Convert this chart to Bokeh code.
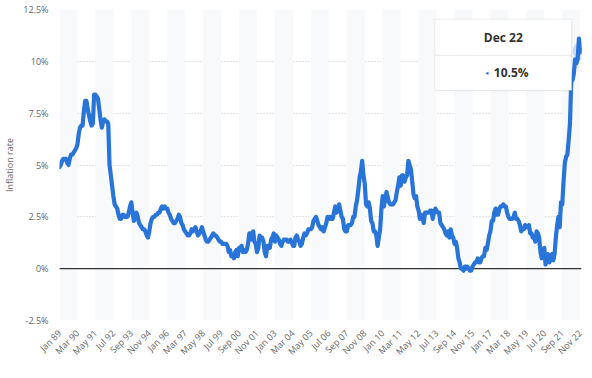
import math
from bokeh.plotting import figure
from bokeh.models import (Range1d, FixedTicker, CustomJSTickFormatter, BoxAnnotation,
                          Span, Label, ColumnDataSource)
from bokeh.embed import file_html
from bokeh.resources import INLINE

# ---------------- data (UK CPI annual rate, %, monthly) ----------------
y1989 = [4.9, 5.0, 5.2, 5.3, 5.3, 5.3, 5.1, 5.0, 5.3, 5.5, 5.5, 5.6]
y1990 = [5.7, 5.8, 6.0, 6.5, 6.8, 6.9, 6.9, 7.6, 8.1, 8.1, 7.7, 7.4]
y1991 = [7.1, 6.9, 7.0, 8.4, 8.4, 8.3, 8.2, 7.7, 7.2, 6.8, 7.1, 7.2]
y1992 = [7.1, 7.1, 7.0, 5.0, 4.5, 4.0, 3.5, 3.1, 3.0, 2.9, 2.6, 2.4]
y1993 = [2.4, 2.6, 2.6, 2.5, 2.5, 2.5, 2.7, 3.0, 3.2, 2.7, 2.3, 2.5]
y1994 = [2.7, 2.5, 2.2, 2.1, 2.0, 1.9, 1.9, 1.8, 1.6, 1.5, 1.8, 2.2]
y1995 = [2.4, 2.5, 2.5, 2.6, 2.6, 2.7, 2.7, 2.9, 3.0, 2.9, 3.0, 2.9]
y1996 = [2.9, 2.7, 2.6, 2.4, 2.3, 2.2, 2.2, 2.3, 2.4, 2.6, 2.5, 2.2]
y1997 = [2.1, 1.9, 1.8, 1.7, 1.6, 1.6, 1.7, 1.9, 1.8, 1.9, 2.0, 1.8]
y1998 = [1.6, 1.7, 1.8, 2.0, 1.8, 1.6, 1.4, 1.3, 1.3, 1.4, 1.5, 1.6]
y1999 = [1.7, 1.6, 1.6, 1.5, 1.4, 1.3, 1.3, 1.2, 1.2, 1.2, 1.2, 1.1]
y2000 = [0.8, 0.9, 0.6, 0.6, 0.5, 0.8, 0.9, 0.6, 1.0, 1.0, 1.1, 0.8]
y2001 = [0.9, 0.8, 0.9, 1.2, 1.7, 1.7, 1.4, 1.8, 1.3, 1.2, 0.8, 1.0]
y2002 = [1.6, 1.5, 1.5, 1.3, 0.8, 0.6, 1.1, 1.0, 1.0, 1.4, 1.5, 1.7]
y2003 = [1.3, 1.6, 1.5, 1.4, 1.2, 1.1, 1.3, 1.4, 1.4, 1.4, 1.3, 1.3]
y2004 = [1.4, 1.3, 1.1, 1.1, 1.5, 1.6, 1.4, 1.3, 1.1, 1.2, 1.5, 1.7]
y2005 = [1.6, 1.7, 1.9, 1.9, 1.9, 2.0, 2.3, 2.4, 2.5, 2.3, 2.1, 2.0]
y2006 = [1.9, 2.0, 1.8, 2.0, 2.2, 2.5, 2.4, 2.5, 2.4, 2.4, 2.7, 3.0]
y2007 = [2.7, 2.8, 3.1, 2.8, 2.5, 2.4, 1.9, 1.8, 1.8, 2.1, 2.1, 2.1]
y2008 = [2.2, 2.5, 2.5, 3.0, 3.3, 3.8, 4.4, 4.7, 5.2, 4.5, 4.1, 3.1]
y2009 = [3.0, 3.2, 2.9, 2.3, 2.2, 1.8, 1.8, 1.6, 1.1, 1.5, 1.9, 2.9]
y2010 = [3.5, 3.0, 3.4, 3.7, 3.4, 3.2, 3.1, 3.1, 3.1, 3.2, 3.3, 3.7]
y2011 = [4.0, 4.4, 4.0, 4.5, 4.5, 4.2, 4.4, 4.5, 5.2, 5.0, 4.8, 4.2]
y2012 = [3.6, 3.4, 3.5, 3.0, 2.8, 2.4, 2.6, 2.5, 2.2, 2.7, 2.7, 2.7]
y2013 = [2.7, 2.8, 2.8, 2.4, 2.7, 2.9, 2.8, 2.7, 2.7, 2.2, 2.1, 2.0]
y2014 = [1.9, 1.7, 1.6, 1.8, 1.5, 1.9, 1.6, 1.5, 1.2, 1.3, 1.0, 0.5]
y2015 = [0.3, 0.0, 0.0, -0.1, 0.1, 0.0, 0.1, 0.0, -0.1, -0.1, 0.1, 0.2]
y2016 = [0.3, 0.3, 0.5, 0.3, 0.3, 0.5, 0.6, 0.6, 1.0, 0.9, 1.2, 1.6]
y2017 = [1.8, 2.3, 2.3, 2.7, 2.9, 2.6, 2.6, 2.9, 3.0, 3.0, 3.1, 3.0]
y2018 = [3.0, 2.7, 2.5, 2.4, 2.4, 2.4, 2.5, 2.7, 2.4, 2.4, 2.3, 2.1]
y2019 = [1.8, 1.9, 1.9, 2.1, 2.0, 2.0, 2.1, 1.7, 1.7, 1.5, 1.5, 1.3]
y2020 = [1.8, 1.7, 1.5, 0.8, 0.5, 0.6, 1.0, 0.2, 0.5, 0.7, 0.3, 0.6]
y2021 = [0.7, 0.4, 0.7, 1.5, 2.1, 2.5, 2.0, 3.2, 3.1, 4.2, 5.1, 5.4]
y2022 = [5.5, 6.2, 7.0, 9.0, 9.1, 9.4, 10.1, 9.9, 10.1, 11.1, 10.7, 10.5]

years = [y1989, y1990, y1991, y1992, y1993, y1994, y1995, y1996, y1997, y1998,
         y1999, y2000, y2001, y2002, y2003, y2004, y2005, y2006, y2007, y2008,
         y2009, y2010, y2011, y2012, y2013, y2014, y2015, y2016, y2017, y2018,
         y2019, y2020, y2021, y2022]
first_year = 1989
month_names = ["Jan", "Feb", "Mar", "Apr", "May", "Jun",
               "Jul", "Aug", "Sep", "Oct", "Nov", "Dec"]

x_tick_labels = ["Jan 89", "Mar 90", "May 91", "Jul 92", "Sep 93", "Nov 94",
                 "Jan 96", "Mar 97", "May 98", "Jul 99", "Sep 00", "Nov 01",
                 "Jan 03", "Mar 04", "May 05", "Jul 06", "Sep 07", "Nov 08",
                 "Jan 10", "Mar 11", "May 12", "Jul 13", "Sep 14", "Nov 15",
                 "Jan 17", "Mar 18", "May 19", "Jul 20", "Sep 21", "Nov 22"]
y_ticks = [-2.5, 0, 2.5, 5, 7.5, 10, 12.5]
y_title = "Inflation rate"

# ---------------- derived ----------------
values = [v for yr in years for v in yr]
months = list(range(len(values)))


def label_to_index(lbl):
    mon, yy = lbl.split()
    yy = int(yy)
    year = 2000 + yy if yy < 50 else 1900 + yy
    return (year - first_year) * 12 + month_names.index(mon)


x_ticks = [label_to_index(l) for l in x_tick_labels]
last_i = months[-1]
last_year = first_year + last_i // 12
last_label = f"{month_names[last_i % 12]} {str(last_year)[-2:]}"

# ---------------- style ----------------
FONT = "Open Sans"
BLUE = "#2874d8"
AXIS_TXT = "#666666"

p = figure(width=592, height=378,
           x_range=Range1d(months[0], months[-1]),
           y_range=Range1d(y_ticks[0], y_ticks[-1]),
           output_backend="svg", toolbar_location=None,
           min_border_left=55, min_border_right=11,
           min_border_top=9, min_border_bottom=58)
p.outline_line_color = None
p.background_fill_color = "white"
p.border_fill_color = "white"

# alternating plot bands
for k in range(0, len(x_ticks) - 1, 2):
    p.add_layout(BoxAnnotation(left=x_ticks[k], right=x_ticks[k + 1],
                               fill_color="#f7f9fb", fill_alpha=1.0,
                               line_color=None, level="underlay"))

# grid
p.xgrid.grid_line_color = None
p.ygrid.ticker = FixedTicker(ticks=y_ticks)
p.ygrid.grid_line_color = "#c9c9c9"
p.ygrid.grid_line_dash = "1 2"
p.ygrid.grid_line_width = 1

# zero line
p.add_layout(Span(location=0, dimension="width", line_color="#333333",
                  line_width=1.3, level="underlay"))

# axes
yax = p.yaxis[0]
yax.ticker = FixedTicker(ticks=y_ticks)
yax.formatter = CustomJSTickFormatter(code="return tick + '%';")
yax.axis_line_color = None
yax.major_tick_line_color = None
yax.minor_tick_line_color = None
yax.major_tick_out = 0
yax.major_tick_in = 0
yax.major_label_standoff = 11
yax.major_label_text_font = FONT
yax.major_label_text_font_size = "9px"
yax.major_label_text_color = AXIS_TXT
yax.axis_label = y_title
yax.axis_label_text_font = FONT
yax.axis_label_text_font_size = "9px"
yax.axis_label_text_font_style = "normal"
yax.axis_label_text_color = AXIS_TXT
yax.axis_label_standoff = 4

xax = p.xaxis[0]
xax.ticker = FixedTicker(ticks=x_ticks)
xax.major_label_overrides = {t: l for t, l in zip(x_ticks, x_tick_labels)}
xax.major_label_orientation = math.pi / 4
xax.axis_line_color = None
xax.major_tick_line_color = None
xax.minor_tick_line_color = None
xax.major_tick_out = 0
xax.major_tick_in = 0
xax.major_label_standoff = 11
xax.major_label_text_font = FONT
xax.major_label_text_font_size = "9px"
xax.major_label_text_color = AXIS_TXT

# the line
src = ColumnDataSource(data=dict(m=months, v=values))
p.line("m", "v", source=src, line_color=BLUE, line_width=4.2,
       line_join="round", line_cap="round")

# highlighted last point
p.scatter([months[-1]], [values[-1]], size=18, fill_color=BLUE, fill_alpha=0.22,
          line_color=None)
p.scatter([months[-1]], [values[-1]], size=7, fill_color=BLUE, line_color=None)

# tooltip (annotation, positioned in data space)
tt_left, tt_right = 292.7, 399.3
tt_top, tt_mid, tt_bottom = 12.03, 10.29, 8.6
p.add_layout(BoxAnnotation(left=tt_left + 0.8, right=tt_right + 0.8,
                           top=tt_top - 0.05, bottom=tt_bottom - 0.05,
                           fill_color="#000000", fill_alpha=0.04, line_color=None,
                           level="annotation"))
p.add_layout(BoxAnnotation(left=tt_left, right=tt_right, top=tt_top, bottom=tt_mid,
                           fill_color="white", fill_alpha=1.0,
                           line_color="#c8c8c8", line_width=1, level="annotation"))
p.add_layout(BoxAnnotation(left=tt_left, right=tt_right, top=tt_mid, bottom=tt_bottom,
                           fill_color="white", fill_alpha=1.0,
                           line_color="#c8c8c8", line_width=1, level="annotation"))
p.add_layout(Label(x=(tt_left + tt_right) / 2, y=(tt_top + tt_mid) / 2,
                   text=last_label, text_align="center", text_baseline="middle",
                   text_font=FONT, text_font_size="12px", text_font_style="bold",
                   text_color="#333333", level="annotation"))
p.add_layout(Label(x=333.5, y=(tt_mid + tt_bottom) / 2, text="\u25CF",
                   text_align="center", text_baseline="middle",
                   text_font=FONT, text_font_size="6px", text_color=BLUE,
                   level="annotation"))
p.add_layout(Label(x=338.6, y=(tt_mid + tt_bottom) / 2, text=f"{values[-1]}%",
                   text_align="left", text_baseline="middle",
                   text_font=FONT, text_font_size="12px", text_font_style="bold",
                   text_color="#333333", level="annotation"))

open("out.html", "w").write(file_html(p, INLINE))
